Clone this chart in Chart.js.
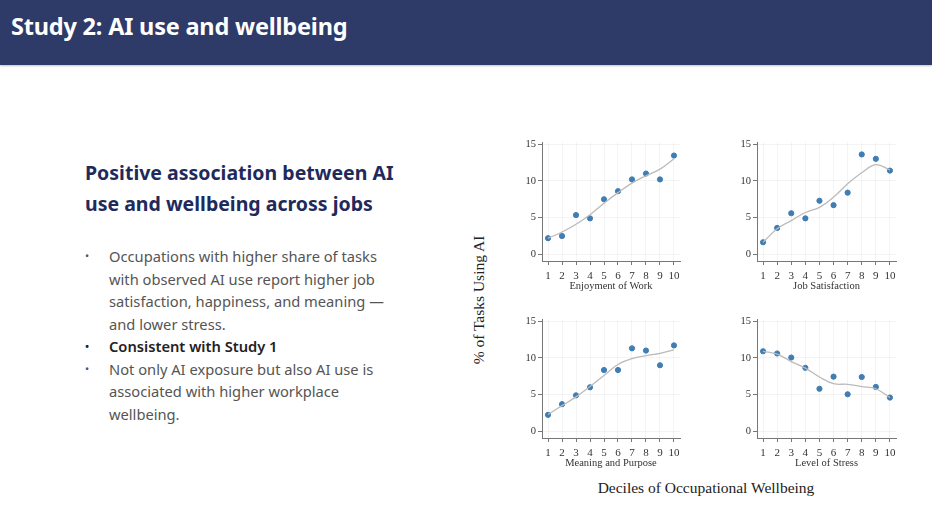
<!DOCTYPE html>
<html lang="en">
<head>
    <meta charset="UTF-8">
    <title>Study 2: AI use and wellbeing</title>
    <script src="https://cdn.jsdelivr.net/npm/chart.js"></script>
    <style>
        html, body { margin: 0; padding: 0; background: #fff; }
        body { width: 932px; height: 522px; position: relative; overflow: hidden; font-family: "Noto Sans", sans-serif; }
        .topbar { position: absolute; left: 0; top: 0; width: 932px; height: 65px; background: #2e3a68; box-shadow: 0 1px 2px rgba(0,0,0,0.25); }
        .topbar h1 { margin: 0; position: absolute; left: 11px; top: 10px; color: #fff; font-size: 23.5px; font-weight: 700; letter-spacing: -0.2px; }
        .heading { position: absolute; left: 85px; top: 157px; color: #1f2a5c; font-size: 19.5px; font-weight: 700; line-height: 31px; margin: 0; }
        ul.points { position: absolute; left: 85px; top: 245px; margin: 0; padding: 0; list-style: none; color: #555; font-size: 14.7px; line-height: 22.5px; width: 300px; }
        ul.points li { position: relative; padding-left: 24px; }
        ul.points li::before { content: "\2022"; position: absolute; left: 0; top: 0; font-size: 11px; }
        ul.points li.strong { color: #222; font-weight: 600; }
        .panel { position: absolute; }
        .ytitle { position: absolute; left: 479px; top: 300px; transform: translate(-50%, -50%) rotate(-90deg); font-family: "Liberation Serif", serif; font-size: 15.5px; color: #222; white-space: nowrap; }
        .xtitle { position: absolute; left: 706px; top: 488px; transform: translate(-50%, -50%); font-family: "Liberation Serif", serif; font-size: 15.5px; color: #222; white-space: nowrap; }
    </style>
</head>
<body>
    <div class="topbar"><h1>Study 2: AI use and wellbeing</h1></div>

    <p class="heading">Positive association between AI<br>use and wellbeing across jobs</p>
    <ul class="points">
        <li>Occupations with higher share of tasks with observed AI use report higher job satisfaction, happiness, and meaning — and lower stress.</li>
        <li class="strong">Consistent with Study 1</li>
        <li>Not only AI exposure but also AI use is associated with higher workplace wellbeing.</li>
    </ul>

    <div class="panel" style="left:515px; top:134px; width:170px; height:159px;"><canvas id="enjoyChart"></canvas></div>
    <div class="panel" style="left:730px; top:134px; width:171px; height:159px;"><canvas id="satisChart"></canvas></div>
    <div class="panel" style="left:515px; top:311px; width:170px; height:159px;"><canvas id="meaningChart"></canvas></div>
    <div class="panel" style="left:730px; top:311px; width:171px; height:159px;"><canvas id="stressChart"></canvas></div>

    <div class="ytitle">% of Tasks Using AI</div>
    <div class="xtitle">Deciles of Occupational Wellbeing</div>

    <script>
        // Deciles and y ticks
        const deciles = [1, 2, 3, 4, 5, 6, 7, 8, 9, 10];
        const yTicks = [0, 5, 10, 15];

        // Share of tasks using AI (points) and smoothed fit, per wellbeing measure
        const enjoyPts   = [2.2, 2.5, 5.35, 4.9, 7.5, 8.6, 10.2, 11.0, 10.2, 13.45];
        const enjoyFit   = [2.2, 3.05, 4.1, 5.4, 6.95, 8.4, 9.7, 10.7, 11.6, 13.0];
        const satisPts   = [1.65, 3.6, 5.6, 4.9, 7.3, 6.7, 8.4, 13.6, 13.0, 11.4];
        const satisFit   = [1.65, 3.5, 4.6, 5.7, 6.4, 7.8, 9.6, 11.1, 12.2, 11.5];
        const meaningPts = [2.25, 3.7, 4.9, 6.0, 8.35, 8.35, 11.3, 11.0, 9.0, 11.7];
        const meaningFit = [2.3, 3.5, 4.7, 6.1, 7.6, 9.1, 9.9, 10.3, 10.6, 11.1];
        const stressPts  = [10.9, 10.6, 10.05, 8.65, 5.8, 7.45, 5.05, 7.4, 6.05, 4.6];
        const stressFit  = [10.9, 10.5, 9.5, 8.6, 7.4, 6.5, 6.4, 6.1, 5.8, 4.6];

        const serif = "'Liberation Serif', serif";

        function toXY(values) {
            return deciles.map((d, i) => ({ x: d, y: values[i] }));
        }

        function drawPanel(id, label, pts, fit) {
            new Chart(document.getElementById(id), {
                type: 'scatter',
                data: {
                    datasets: [{
                        type: 'line',
                        data: toXY(fit),
                        borderColor: '#bbbbbb',
                        borderWidth: 1.3,
                        pointRadius: 0,
                        tension: 0.4,
                        fill: false
                    }, {
                        data: toXY(pts),
                        backgroundColor: '#3f7db3',
                        borderColor: '#3f7db3',
                        pointRadius: 2.6,
                        pointHoverRadius: 2.6
                    }]
                },
                options: {
                    responsive: true,
                    maintainAspectRatio: false,
                    animation: false,
                    layout: { padding: { top: 5, right: 5, left: 0, bottom: 0 } },
                    plugins: { legend: { display: false }, tooltip: { enabled: false } },
                    scales: {
                        x: {
                            type: 'linear',
                            min: 0.57,
                            max: 10.43,
                            afterBuildTicks: s => { s.ticks = deciles.map(v => ({ value: v })); },
                            afterFit: s => { s.height = 32; },
                            grid: { color: 'rgba(0,0,0,0.045)', tickColor: '#777', tickLength: 4 },
                            border: { color: '#777', width: 1 },
                            ticks: { font: { family: serif, size: 11 }, color: '#333', padding: 5, maxRotation: 0, autoSkip: false },
                            title: { display: true, text: label, font: { family: serif, size: 10.5 }, color: '#333', padding: { top: 0, bottom: 0 } }
                        },
                        y: {
                            min: -0.9,
                            max: 15.25,
                            afterBuildTicks: s => { s.ticks = yTicks.map(v => ({ value: v })); },
                            afterFit: s => { s.width = 27; },
                            grid: { color: 'rgba(0,0,0,0.045)', tickColor: '#777', tickLength: 4 },
                            border: { color: '#777', width: 1 },
                            ticks: { font: { family: serif, size: 10.5 }, color: '#333', padding: 2 }
                        }
                    }
                }
            });
        }

        drawPanel('enjoyChart', 'Enjoyment of Work', enjoyPts, enjoyFit);
        drawPanel('satisChart', 'Job Satisfaction', satisPts, satisFit);
        drawPanel('meaningChart', 'Meaning and Purpose', meaningPts, meaningFit);
        drawPanel('stressChart', 'Level of Stress', stressPts, stressFit);
    </script>
</body>
</html>
